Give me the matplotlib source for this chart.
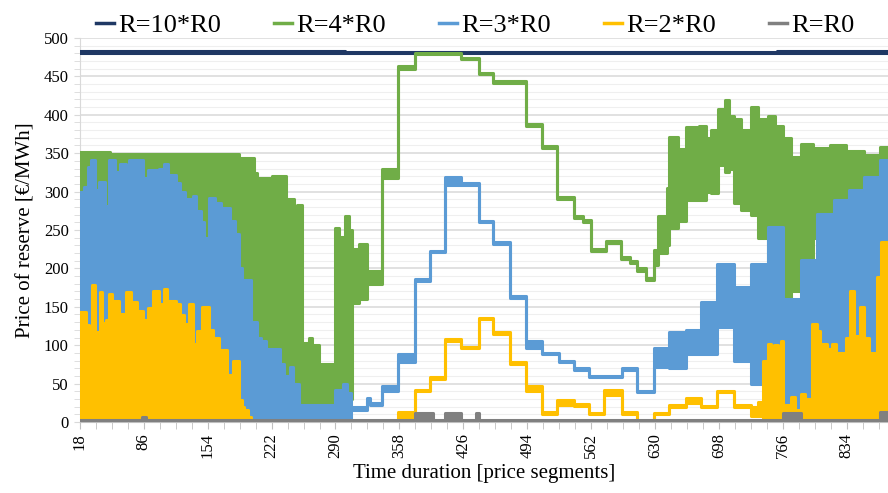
import numpy as np
import matplotlib
matplotlib.use("Agg")
import matplotlib.pyplot as plt
from matplotlib.ticker import MultipleLocator
from matplotlib.lines import Line2D

plt.rcParams['font.family'] = ['Liberation Serif', 'DejaVu Serif']

X_START, X_END = 18, 878

# each series is a run of blocks: first price segment, upper value, lower value
r10_x = [18, 300, 760]
r10_hi = [483, 482, 483]
r10_lo = [480, 481, 480]

r4_x = [18, 50, 187, 203, 206, 222, 237, 246, 249, 254, 262, 265, 272, 290, 294,
        300, 304, 308, 315, 323, 339, 357, 375, 424, 443, 458, 493, 510, 526, 544,
        553, 562, 578, 594, 603, 611, 620, 629, 633, 643, 645, 655, 663, 677, 684,
        690, 697, 705, 709, 714, 722, 732, 740, 750, 758, 766, 775, 785, 798, 816,
        833, 852, 869]
r4_hi = [352, 349, 344, 324, 318, 320, 290, 270, 282, 103, 110, 100, 75, 252, 241,
         268, 250, 225, 232, 196, 330, 463, 481, 474, 455, 444, 388, 359, 293, 268,
         263, 225, 236, 215, 210, 200, 188, 224, 268, 305, 371, 355, 384, 386, 370,
         380, 408, 419, 398, 395, 380, 410, 395, 398, 385, 370, 345, 362, 357, 360,
         353, 348, 358]
r4_lo = [0, 0, 0, 0, 0, 0, 0, 0, 0, 5, 5, 5, 5, 30, 30,
         30, 30, 155, 160, 180, 318, 460, 479, 472, 453, 442, 385, 357, 290, 265,
         260, 222, 233, 212, 207, 197, 185, 205, 220, 230, 252, 262, 289, 289, 300,
         298, 335, 325, 330, 285, 276, 270, 240, 205, 180, 159, 170, 185, 240, 250,
         262, 290, 330]

r3_x = [18, 22, 27, 30, 34, 38, 45, 49, 55, 61, 67, 70, 85, 90, 102, 108, 112, 120,
        125, 130, 138, 142, 147, 150, 155, 162, 168, 178, 183, 187, 190, 200, 206,
        211, 216, 231, 235, 242, 245, 251, 290, 298, 302, 307, 323, 327, 339, 357,
        375, 391, 407, 424, 443, 458, 476, 493, 510, 528, 544, 560, 595, 611, 629,
        645, 663, 679, 696, 714, 732, 750, 766, 785, 802, 820, 836, 852, 869]
r3_hi = [300, 306, 332, 341, 302, 312, 281, 341, 326, 336, 332, 341, 318, 328, 330,
         336, 322, 311, 300, 290, 294, 275, 260, 240, 292, 285, 278, 262, 245, 200,
         185, 130, 110, 106, 95, 76, 60, 72, 50, 22, 42, 50, 38, 19, 31, 25, 47, 89,
         186, 223, 319, 311, 262, 234, 164, 105, 90, 80, 70, 60, 70, 41, 96, 117,
         120, 156, 206, 176, 206, 254, 160, 211, 271, 289, 302, 319, 341]
r3_lo = [20, 20, 20, 20, 20, 20, 20, 20, 20, 20, 20, 20, 20, 20, 20,
         20, 20, 20, 20, 20, 20, 20, 20, 20, 20, 20, 20, 20, 20, 3,
         3, 3, 3, 3, 3, 3, 3, 3, 3, 3, 3, 3, 3, 16, 28, 22, 40, 78,
         184, 221, 309, 309, 260, 232, 162, 97, 88, 78, 68, 58, 68, 39, 72, 70,
         88, 88, 124, 80, 50, 20, 15, 15, 15, 15, 15, 15, 15]

r2_x = [18, 24, 28, 31, 34, 39, 42, 46, 49, 52, 54, 60, 67, 72, 79, 85, 90, 96,
        102, 108, 111, 120, 125, 129, 134, 138, 143, 148, 155, 160, 166, 174, 181,
        187, 190, 193, 197, 200, 357, 375, 391, 407, 424, 443, 458, 476, 493, 510,
        526, 544, 560, 576, 595, 611, 629, 645, 663, 679, 696, 714, 732, 740, 745,
        750, 753, 757, 761, 764, 766, 775, 779, 785, 790, 797, 802, 806, 813, 818,
        823, 833, 838, 842, 848, 852, 858, 866, 871]
r2_hi = [143, 126, 120, 178, 117, 169, 129, 133, 167, 145, 158, 140, 169, 156, 145,
         133, 148, 171, 154, 173, 158, 154, 139, 128, 154, 102, 118, 150, 120, 110,
         94, 61, 79, 29, 20, 15, 7, 0, 13, 42, 58, 108, 98, 136, 117, 78, 47, 13,
         29, 23, 12, 42, 13, 0, 12, 22, 31, 21, 41, 22, 20, 26, 80,
         102, 76, 100, 78, 106, 22, 33, 15, 37, 30, 128, 118, 102, 95, 102,
         90, 110, 170, 112, 150, 110, 90, 189, 235]
r2_lo = [0] * 38 + [6, 40, 56, 106, 96, 134, 115, 76, 40, 11,
                    22, 21, 10, 35, 11, 0, 10, 20, 25, 19, 39, 20, 8, 8] + [0] * 25

r1_x = [18, 84, 88, 375, 394, 407, 424, 439, 443, 766, 785, 869]
r1_hi = [2, 6, 2, 12, 2, 12, 2, 12, 2, 12, 2, 13]
r1_lo = [0, 0, 0, 2, 0, 2, 0, 2, 0, 2, 0, 2]

series = [
    ("R=10*R0", "#1F3864", r10_x, r10_hi, r10_lo),
    ("R=4*R0", "#70AD47", r4_x, r4_hi, r4_lo),
    ("R=3*R0", "#5B9BD5", r3_x, r3_hi, r3_lo),
    ("R=2*R0", "#FFC000", r2_x, r2_hi, r2_lo),
    ("R=R0", "#808080", r1_x, r1_hi, r1_lo),
]


def draw_band(ax, xs, hi, lo, color, z):
    xe = np.append(np.asarray(xs, float), X_END)
    he = np.append(hi, hi[-1])
    le = np.append(lo, lo[-1])
    ax.fill_between(xe, le, he, step='post', color=color, lw=0, zorder=z)
    ax.step(xe, he, where='post', color=color, lw=2.2, zorder=z)
    ax.step(xe, le, where='post', color=color, lw=2.2, zorder=z)


fig = plt.figure(figsize=(8.88, 4.93), dpi=100)
ax = fig.add_axes([0.090, 0.144, 0.910, 0.779])

for i, (name, color, xs, hi, lo) in enumerate(series):
    draw_band(ax, xs, hi, lo, color, 3 + i)

ax.set_xlim(X_START, X_END)
ax.set_ylim(0, 500)

ax.yaxis.set_major_locator(MultipleLocator(50))
ax.yaxis.set_minor_locator(MultipleLocator(10))
ax.grid(which='major', axis='y', color='#D9D9D9', lw=1.1, zorder=0)
ax.grid(which='minor', axis='y', color='#EFEFEF', lw=0.8, zorder=0)
ax.set_axisbelow(True)

ax.set_xticks(np.arange(18, X_END, 68))
ax.set_xticks(np.arange(18, X_END, 17), minor=True)
ax.tick_params(axis='x', which='both', direction='out', length=5, color='#BFBFBF')
ax.tick_params(axis='x', which='major', labelrotation=90, labelsize=12, pad=3)
ax.tick_params(axis='y', which='both', direction='out', length=4, color='#D9D9D9')
ax.tick_params(axis='y', which='major', labelsize=12, pad=4)

for s in ['top', 'right']:
    ax.spines[s].set_visible(False)
ax.spines['left'].set_color('#D9D9D9')
ax.spines['bottom'].set_color('#BFBFBF')

ax.set_xlabel('Time duration [price segments]', fontsize=15, labelpad=4)
ax.set_ylabel('Price of reserve [€/MWh]', fontsize=15, labelpad=6)

handles = [Line2D([0], [0], color=c, lw=2.5) for _, c, _, _, _ in series]
labels = [n for n, _, _, _, _ in series]
fig.legend(handles, labels, loc='upper center', bbox_to_anchor=(0.535, 1.02),
           ncol=5, frameon=False, fontsize=19, handlelength=0.7,
           handletextpad=0.15, columnspacing=2.0)

fig.savefig('out.png', dpi=100)
